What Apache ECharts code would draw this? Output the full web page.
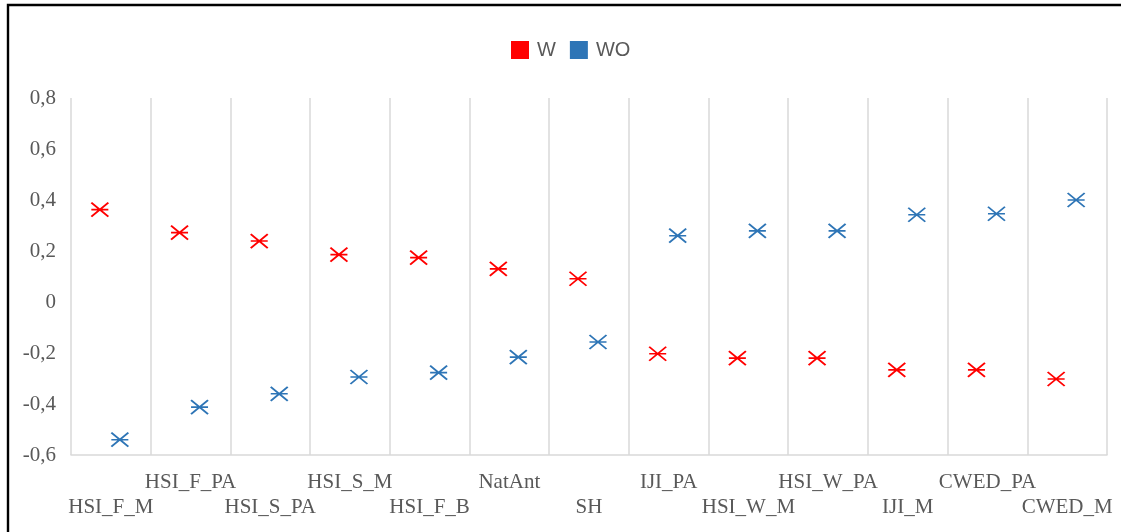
<!DOCTYPE html>
<html>
<head>
<meta charset="utf-8">
<script src="https://cdn.jsdelivr.net/npm/echarts@6/dist/echarts.min.js"></script>
<style>
html,body{margin:0;padding:0;background:#fff;}
#c{width:1121px;height:532px;}
</style>
</head>
<body>
<div id="c"></div>
<script>
const categories = ['HSI_F_M','HSI_F_PA','HSI_S_PA','HSI_S_M','HSI_F_B','NatAnt','SH','IJI_PA','HSI_W_M','HSI_W_PA','IJI_M','CWED_PA','CWED_M'];
const seriesW = [0.362, 0.272, 0.239, 0.186, 0.174, 0.13, 0.091, -0.203, -0.22, -0.22, -0.266, -0.266, -0.302];
const seriesWO = [-0.54, -0.412, -0.36, -0.294, -0.277, -0.216, -0.157, 0.26, 0.279, 0.279, 0.342, 0.346, 0.4];
const yTicks = {min: -0.6, max: 0.8, interval: 0.2};

const chart = echarts.init(document.getElementById('c'));
const starPath = 'path://M0,0L18,14M18,0L0,14M0,7L18,7';
const labelColor = '#595959';
const serif = '"Liberation Serif", "Times New Roman", serif';

function mk(name, data, color, off) {
  return {
    name: name,
    type: 'scatter',
    data: data,
    symbol: starPath,
    symbolSize: [17, 14],
    symbolOffset: [off, 0],
    itemStyle: {color: color, borderColor: color, borderWidth: 1.8, opacity: 1},
    emphasis: {disabled: true}
  };
}

chart.setOption({
  animation: false,
  backgroundColor: '#fff',
  graphic: [{
    type: 'rect',
    shape: {x: 8, y: 5, width: 1130, height: 560},
    style: {fill: 'none', stroke: '#000', lineWidth: 2.4},
    silent: true,
    z: 100
  }],
  legend: {
    left: 506,
    top: 35,
    itemWidth: 18,
    itemHeight: 18,
    itemGap: 14,
    inactiveColor: '#ccc',
    textStyle: {color: labelColor, fontSize: 20, fontFamily: '"Liberation Sans", Arial, sans-serif', padding: [0, 0, 0, 3]},
    data: [
      {name: 'W', icon: 'rect', itemStyle: {color: '#ff0000', borderWidth: 0, opacity: 1}},
      {name: 'WO', icon: 'rect', itemStyle: {color: '#2e75b6', borderWidth: 0, opacity: 1}}
    ]
  },
  grid: {left: 71, right: 14, top: 98, bottom: 77, containLabel: false},
  xAxis: {
    type: 'category',
    data: categories,
    boundaryGap: true,
    axisLine: {show: true, onZero: false, lineStyle: {color: '#d9d9d9', width: 1.5}},
    axisTick: {show: false},
    splitLine: {show: true, interval: 0, lineStyle: {color: '#d9d9d9', width: 1.5}},
    axisLabel: {
      interval: 0,
      margin: 15,
      color: labelColor,
      fontFamily: serif,
      fontSize: 21,
      lineHeight: 25,
      formatter: function (v, i) { return i % 2 === 0 ? '\n' + v : v; }
    }
  },
  yAxis: {
    type: 'value',
    min: yTicks.min,
    max: yTicks.max,
    interval: yTicks.interval,
    axisLine: {show: false},
    axisTick: {show: false},
    splitLine: {show: false},
    axisLabel: {
      margin: 15,
      color: labelColor,
      fontFamily: serif,
      fontSize: 21,
      formatter: function (v) {
        const r = Math.round(v * 10) / 10;
        if (Math.abs(r) < 1e-9) return '0';
        return r.toFixed(1).replace('.', ',');
      }
    }
  },
  series: [
    mk('W', seriesW, '#ff0000', -11),
    mk('WO', seriesWO, '#2e75b6', 9)
  ]
});
</script>
</body>
</html>
